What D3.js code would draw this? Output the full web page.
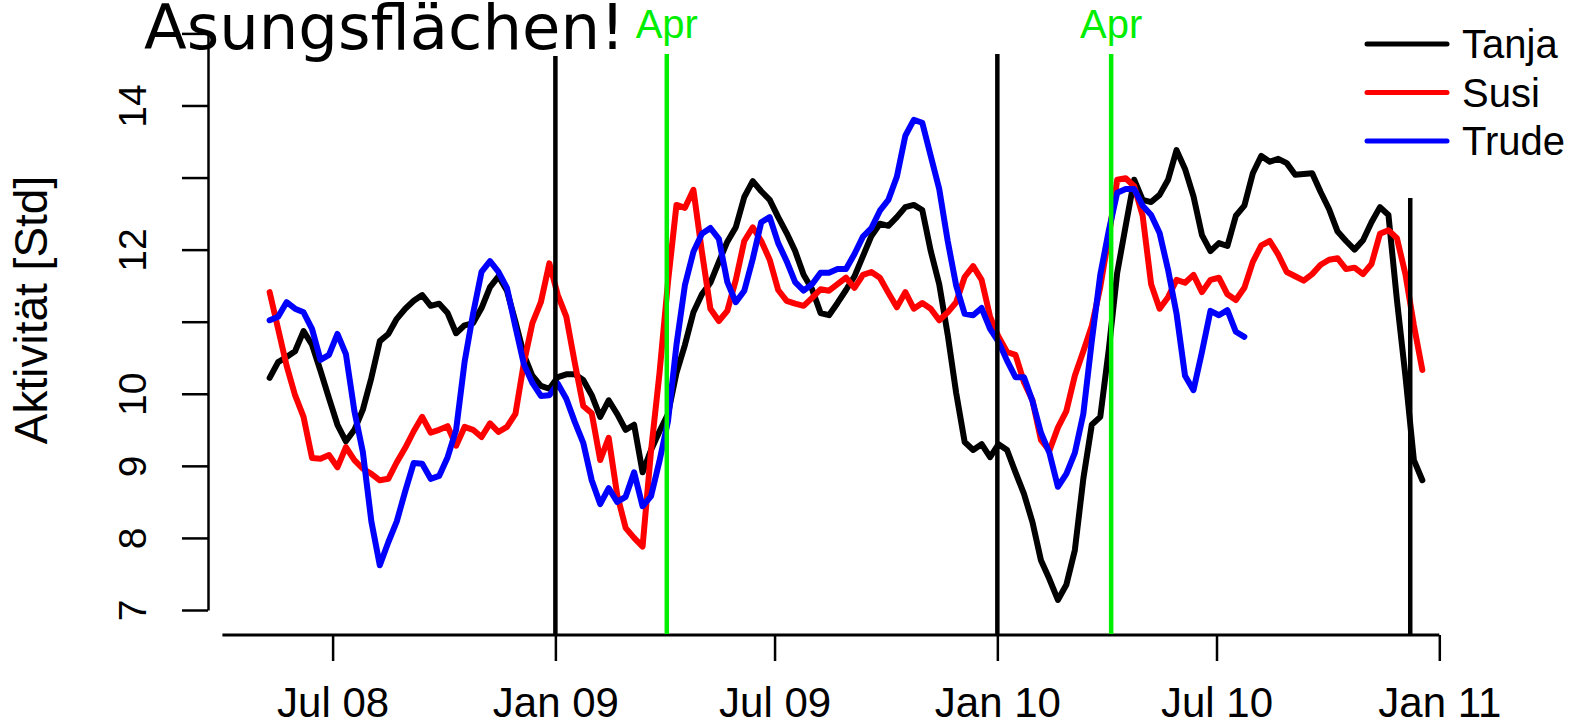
<!DOCTYPE html>
<html>
<head>
<meta charset="utf-8">
<script src="https://cdn.jsdelivr.net/npm/d3@7"></script>
<style>
  body { margin: 0; background: #fff; }
  svg { display: block; }
  text { font-family: "Liberation Sans", Arial, sans-serif; }
</style>
</head>
<body>
<div id="chart"></div>
<script>
// weekly activity values, first week starts 10 May 2008
var startDate = new Date(Date.UTC(2008, 4, 10));

var tanja = [10.22,10.44,10.51,10.59,10.87,10.68,10.32,9.94,9.57,9.34,
  9.50,9.78,10.22,10.73,10.83,11.04,11.18,11.29,11.37,11.22,
  11.25,11.12,10.84,10.95,10.98,11.19,11.48,11.63,11.43,11.00,
  10.54,10.25,10.11,10.07,10.23,10.27,10.27,10.19,9.98,9.68,
  9.91,9.72,9.50,9.57,8.91,9.22,9.48,9.72,10.29,10.68,
  11.13,11.38,11.54,11.83,12.11,12.31,12.73,12.95,12.81,12.69,
  12.45,12.23,11.98,11.65,11.45,11.12,11.09,11.26,11.44,11.63,
  11.91,12.19,12.36,12.33,12.45,12.59,12.62,12.55,11.98,11.52,
  10.82,10.01,9.33,9.22,9.30,9.12,9.30,9.22,8.91,8.61,
  8.22,7.69,7.43,7.14,7.35,7.83,8.82,9.57,9.68,10.61,
  11.68,12.33,12.97,12.69,12.66,12.76,12.97,13.38,13.12,12.74,
  12.20,11.98,12.09,12.05,12.47,12.61,13.06,13.30,13.22,13.26,
  13.20,13.04,13.05,13.06,12.80,12.56,12.25,12.12,12.00,12.13,
  12.38,12.59,12.48,11.30,10.25,9.08,8.80];

var susi = [11.41,10.90,10.39,9.98,9.68,9.11,9.10,9.15,8.98,9.26,
  9.08,8.96,8.89,8.80,8.82,9.05,9.25,9.48,9.68,9.46,
  9.50,9.55,9.28,9.54,9.50,9.40,9.59,9.47,9.54,9.72,
  10.43,10.98,11.27,11.81,11.37,11.07,10.43,9.83,9.73,9.08,
  9.39,8.60,8.14,8.00,7.88,9.21,10.29,11.55,12.62,12.58,
  12.83,11.97,11.18,11.01,11.15,11.58,12.12,12.31,12.12,11.86,
  11.44,11.29,11.25,11.22,11.33,11.45,11.43,11.52,11.61,11.47,
  11.65,11.69,11.61,11.40,11.20,11.41,11.18,11.26,11.18,11.02,
  11.13,11.27,11.62,11.77,11.58,11.07,10.79,10.58,10.54,10.16,
  9.91,9.36,9.21,9.53,9.76,10.25,10.59,10.94,11.48,12.18,
  12.97,12.99,12.88,12.47,11.52,11.18,11.34,11.58,11.54,11.65,
  11.41,11.58,11.61,11.38,11.30,11.47,11.83,12.06,12.12,11.93,
  11.69,11.63,11.57,11.66,11.79,11.86,11.88,11.73,11.75,11.66,
  11.80,12.22,12.27,12.16,11.66,10.95,10.33];

var trude = [11.02,11.07,11.27,11.18,11.13,10.90,10.47,10.54,10.83,10.55,
  9.76,9.19,8.23,7.62,7.94,8.23,8.65,9.04,9.03,8.82,
  8.86,9.12,9.50,10.44,11.11,11.69,11.84,11.69,11.47,10.93,
  10.41,10.15,9.97,9.98,10.14,9.93,9.61,9.32,8.80,8.47,
  8.69,8.50,8.57,8.91,8.44,8.58,9.07,9.62,10.68,11.51,
  11.97,12.22,12.30,12.15,11.55,11.27,11.43,11.87,12.38,12.45,
  12.09,11.84,11.55,11.43,11.52,11.68,11.68,11.73,11.73,11.94,
  12.18,12.30,12.54,12.69,13.01,13.58,13.80,13.76,13.30,12.84,
  12.12,11.50,11.11,11.09,11.19,10.90,10.72,10.46,10.23,10.23,
  9.90,9.46,9.18,8.71,8.89,9.18,9.72,10.73,11.65,12.26,
  12.79,12.84,12.84,12.61,12.48,12.23,11.72,11.11,10.25,10.05,
  10.58,11.15,11.09,11.16,10.86,10.79];

var seriesNames = ["Tanja", "Susi", "Trude"];
var seriesColors = ["#000000", "#ff0000", "#0000ff"];

var xTickDates = ["2008-07-01", "2009-01-01", "2009-07-01", "2010-01-01", "2010-07-01", "2011-01-01"];
var yTicks = [7, 8, 9, 10, 11, 12, 13, 14, 15];
var yTickLabels = [7, 8, 9, 10, 12, 14];

var yearMarks = ["2009-01-01", "2010-01-01", "2010-12-08"];   // black lines
var aprilMarks = ["2009-04-03", "2010-04-05"];                // green lines
var aprilLabel = "Apr";

var width = 1576, height = 725;

var svg = d3.select("#chart").append("svg")
    .attr("width", width)
    .attr("height", height);

svg.append("rect").attr("width", width).attr("height", height).attr("fill", "white");

var parse = d3.utcParse("%Y-%m-%d");

var x = d3.scaleUtc()
    .domain([parse("2008-07-01"), parse("2011-01-01")])
    .range([332.6, 1439.3]);

var y = d3.scaleLinear()
    .domain([7, 15])
    .range([610, 33.4]);

function toPoints(vals) {
    return vals.map(function(v, i) {
        return { date: d3.utcDay.offset(startDate, 7 * i), value: v };
    });
}

var line = d3.line()
    .x(function(d) { return x(d.date); })
    .y(function(d) { return y(d.value); });

// y axis
var yAxis = svg.append("g")
    .attr("transform", "translate(208,0)")
    .call(d3.axisLeft(y)
        .tickValues(yTicks)
        .tickSize(26)
        .tickSizeOuter(0)
        .tickFormat(function(d) { return yTickLabels.indexOf(d) >= 0 ? d : ""; }));
yAxis.select(".domain").attr("stroke-width", 2.5);
yAxis.selectAll(".tick line").attr("stroke-width", 2.5);
yAxis.selectAll(".tick text")
    .attr("x", null).attr("dy", null)
    .attr("transform", "translate(-62,0) rotate(-90)")
    .attr("text-anchor", "middle")
    .attr("font-size", 39)
    .attr("font-family", "Liberation Sans, Arial, sans-serif")
    .attr("fill", "#000");

// x axis
var xAxis = svg.append("g")
    .attr("transform", "translate(0,635)")
    .call(d3.axisBottom(x)
        .tickValues(xTickDates.map(parse))
        .tickSize(26)
        .tickSizeOuter(0)
        .tickFormat(d3.utcFormat("%b %y")));
xAxis.select(".domain").remove();
xAxis.selectAll(".tick line").attr("stroke-width", 2.5);
xAxis.selectAll(".tick text")
    .attr("y", 82).attr("dy", null)
    .attr("font-size", 42)
    .attr("font-family", "Liberation Sans, Arial, sans-serif")
    .attr("fill", "#000");
xAxis.append("line")
    .attr("x1", x(parse("2008-04-01")))
    .attr("x2", x(parse("2011-01-01")))
    .attr("stroke", "black")
    .attr("stroke-width", 3);

// data lines
var all = [tanja, susi, trude];
all.forEach(function(vals, i) {
    svg.append("path")
        .datum(toPoints(vals))
        .attr("d", line)
        .attr("fill", "none")
        .attr("stroke", seriesColors[i])
        .attr("stroke-width", 6)
        .attr("stroke-linejoin", "round")
        .attr("stroke-linecap", "round");
});

// marker lines
var yearTops = [56, 54, 198];
svg.selectAll(".yearMark")
    .data(yearMarks)
    .enter().append("line")
    .attr("x1", function(d) { return x(parse(d)); })
    .attr("x2", function(d) { return x(parse(d)); })
    .attr("y1", function(d, i) { return yearTops[i]; })
    .attr("y2", 634)
    .attr("stroke", "black")
    .attr("stroke-width", 4.5);

svg.selectAll(".aprMark")
    .data(aprilMarks)
    .enter().append("line")
    .attr("x1", function(d) { return x(parse(d)); })
    .attr("x2", function(d) { return x(parse(d)); })
    .attr("y1", 54)
    .attr("y2", 634)
    .attr("stroke", "#00ee00")
    .attr("stroke-width", 4.5);

svg.selectAll(".aprLabel")
    .data(aprilMarks)
    .enter().append("text")
    .attr("x", function(d) { return x(parse(d)); })
    .attr("y", 38)
    .attr("text-anchor", "middle")
    .attr("font-size", 40)
    .attr("fill", "#00ee00")
    .text(aprilLabel);

// y label
svg.append("text")
    .attr("transform", "translate(47,310) rotate(-90)")
    .attr("text-anchor", "middle")
    .attr("font-size", 46)
    .text("Aktivität [Std]");

// legend
var legend = svg.append("g");
seriesNames.forEach(function(name, i) {
    var ly = 44 + i * 48.5;
    legend.append("line")
        .attr("x1", 1367).attr("x2", 1447)
        .attr("y1", ly).attr("y2", ly)
        .attr("stroke", seriesColors[i])
        .attr("stroke-width", 5)
        .attr("stroke-linecap", "round");
    legend.append("text")
        .attr("x", 1462)
        .attr("y", ly + 14)
        .attr("font-size", 40)
        .text(name);
});

// title, pasted over the top left
svg.append("text")
    .attr("x", 144)
    .attr("y", 49)
    .style("font-family", "'DejaVu Sans', sans-serif")
    .attr("font-size", 62)
    .attr("textLength", 481)
    .attr("lengthAdjust", "spacingAndGlyphs")
    .text("Äsungsflächen!");
</script>
</body>
</html>
